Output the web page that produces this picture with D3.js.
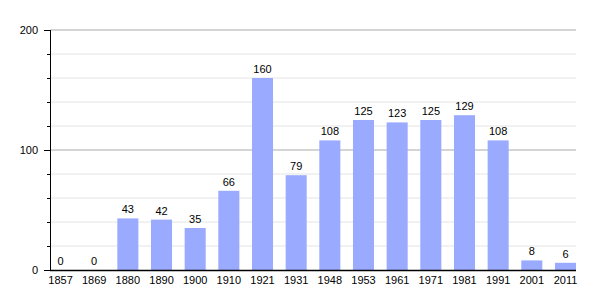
<!DOCTYPE html>
<html>
<head>
<meta charset="utf-8">
<script src="https://cdn.jsdelivr.net/npm/d3@7"></script>
<style>
  body { margin: 0; background: #fff; }
  text { font-family: "Liberation Sans", Arial, sans-serif; font-size: 11px; fill: #000; }
</style>
</head>
<body>
<svg width="605" height="300"></svg>
<script>
// data
var years = ["1857","1869","1880","1890","1900","1910","1921","1931","1948","1953","1961","1971","1981","1991","2001","2011"];
var pop = [0,0,43,42,35,66,160,79,108,125,123,125,129,108,8,6];
var majorTicks = [0,100,200];
var minorTicks = [20,40,60,80,120,140,160,180];

var svg = d3.select("svg"),
    margin = {top: 30, right: 29, bottom: 30, left: 50},
    width = +svg.attr("width") - margin.left - margin.right,
    height = +svg.attr("height") - margin.top - margin.bottom,
    g = svg.append("g").attr("transform", "translate(" + margin.left + "," + margin.top + ")");

var x = d3.scaleBand()
    .domain(years)
    .range([0, width])
    .paddingInner(0.375)
    .paddingOuter(0);

var y = d3.scaleLinear()
    .domain([0, 200])
    .range([height, 0]);

// gridlines, minor first
g.selectAll(".minor")
  .data(minorTicks)
  .enter().append("line")
    .attr("x1", 0).attr("x2", width)
    .attr("y1", function(d) { return y(d); })
    .attr("y2", function(d) { return y(d); })
    .attr("stroke", "#e4e4e4");

g.selectAll(".major")
  .data(majorTicks.filter(function(d) { return d > 0; }))
  .enter().append("line")
    .attr("x1", 0).attr("x2", width)
    .attr("y1", function(d) { return y(d); })
    .attr("y2", function(d) { return y(d); })
    .attr("stroke", "#aaaaaa");

// bars
g.selectAll(".bar")
  .data(pop)
  .enter().append("rect")
    .attr("x", function(d, i) { return x(years[i]); })
    .attr("y", function(d) { return y(d); })
    .attr("width", x.bandwidth())
    .attr("height", function(d) { return height - y(d); })
    .attr("fill", "#9aabff");

// value labels
g.selectAll(".val")
  .data(pop)
  .enter().append("text")
    .attr("x", function(d, i) { return x(years[i]) + x.bandwidth() / 2; })
    .attr("y", function(d) { return y(d) - 5; })
    .attr("text-anchor", "middle")
    .text(function(d) { return d; });

// y axis: major ticks with labels, minor ticks without
var yAxis = g.append("g")
    .call(d3.axisLeft(y).tickValues(majorTicks).tickSize(6).tickPadding(6));
yAxis.select(".domain").remove();
yAxis.selectAll("line").attr("stroke", "#000");
yAxis.selectAll("text").style("font-size", "11px").style("font-family", null);

g.selectAll(".mtick")
  .data(minorTicks)
  .enter().append("line")
    .attr("x1", -3).attr("x2", 0)
    .attr("y1", function(d) { return y(d) + 0.5; })
    .attr("y2", function(d) { return y(d) + 0.5; })
    .attr("stroke", "#000");

g.append("line")
    .attr("x1", 0.5).attr("x2", 0.5)
    .attr("y1", 0).attr("y2", height)
    .attr("stroke", "#000");

// x axis
var xAxis = g.append("g")
    .attr("transform", "translate(0," + height + ")")
    .call(d3.axisBottom(x).tickSize(0).tickPadding(6));
xAxis.select(".domain").remove();
xAxis.selectAll("text").style("font-size", "11px").style("font-family", null);

g.append("line")
    .attr("x1", 0).attr("x2", width)
    .attr("y1", height + 0.5).attr("y2", height + 0.5)
    .attr("stroke", "#000")
    .attr("stroke-width", 1.5);
</script>
</body>
</html>
